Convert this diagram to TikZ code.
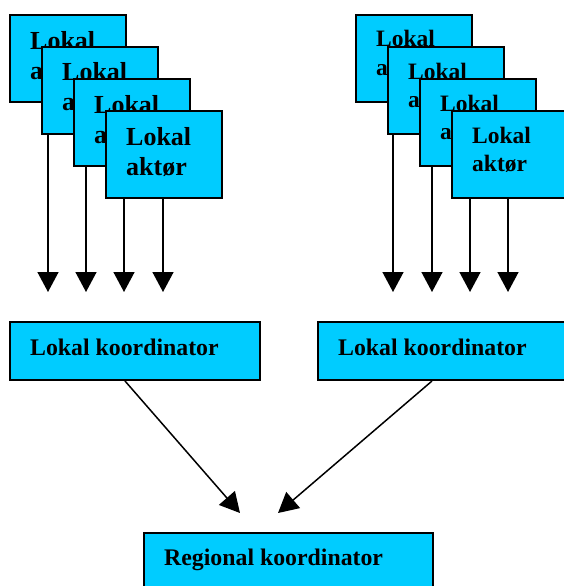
\documentclass[tikz,border=0pt]{standalone}
\usepackage{fontspec}
\setmainfont{Liberation Serif}
\usetikzlibrary{arrows.meta}
\definecolor{boxcyan}{RGB}{0,204,255}
\tikzset{
  cardbox/.style={draw=black, line width=2pt, fill=boxcyan, anchor=north west,
    inner sep=0pt, minimum width=116pt, minimum height=87pt},
  barbox/.style={draw=black, line width=2pt, fill=boxcyan, anchor=north west,
    inner sep=0pt, minimum height=58pt},
  cardtextL/.style={anchor=base west, inner sep=0pt, text width=90pt, align=left,
    font=\fontsize{26}{30}\selectfont\bfseries},
  cardtextR/.style={anchor=base west, inner sep=0pt, text width=90pt, align=left,
    font=\fontsize{23.5}{28.5}\selectfont\bfseries},
  bartext/.style={anchor=base west, inner sep=0pt,
    font=\fontsize{23.8}{28}\selectfont\bfseries},
  flow/.style={line width=1.5pt, -{Triangle[length=20pt, width=21pt]}},
}
\begin{document}
\begin{tikzpicture}[x=1pt, y=-1pt]
\useasboundingbox (0,0) rectangle (564,586);

% arrow end points
\coordinate (tipL) at (240,513);
\coordinate (tipR) at (278,513);

% left stack of actors: each card, its text, then its arrow;
% the next card covers the upper part of both
\foreach \i/\x/\y/\ax in {1/9/14/39, 2/41/46/45, 3/73/78/51, 4/105/110/58}{
  \node[cardbox] (L\i) at (\x,\y) {};
  \node[cardtextL] (LT\i) at ([xshift=21pt, yshift=-35pt]L\i.north west) {Lokal\\aktør};
  \coordinate (LE\i) at ([xshift=\ax pt]L\i.south west |- 0,292);
  \draw[flow] ([xshift=\ax pt]L\i.south west) -- (LE\i);
}
% right stack of actors
\foreach \i/\x/\y/\ax in {1/355/14/38, 2/387/46/45, 3/419/78/51, 4/451/110/57}{
  \node[cardbox] (R\i) at (\x,\y) {};
  \node[cardtextR] (RT\i) at ([xshift=21pt, yshift=-33pt]R\i.north west) {Lokal\\aktør};
  \coordinate (RE\i) at ([xshift=\ax pt]R\i.south west |- 0,292);
  \draw[flow] ([xshift=\ax pt]R\i.south west) -- (RE\i);
}

% coordinators
\node[barbox, minimum width=250pt] (KL) at (9,321) {};
\node[bartext] (KLT) at ([xshift=21pt, yshift=-34pt]KL.north west) {Lokal koordinator};
\node[barbox, minimum width=250pt] (KR) at (317,321) {};
\node[bartext] (KRT) at ([xshift=21pt, yshift=-34pt]KR.north west) {Lokal koordinator};
\node[barbox, minimum width=289pt] (RG) at (143,532) {};
\node[bartext] (RGT) at ([xshift=21pt, yshift=-33pt]RG.north west) {Regional koordinator};

\draw[flow] ([xshift=116pt]KL.south west) -- (tipL);
\draw[flow] ([xshift=115pt]KR.south west) -- (tipR);

\end{tikzpicture}
\end{document}
